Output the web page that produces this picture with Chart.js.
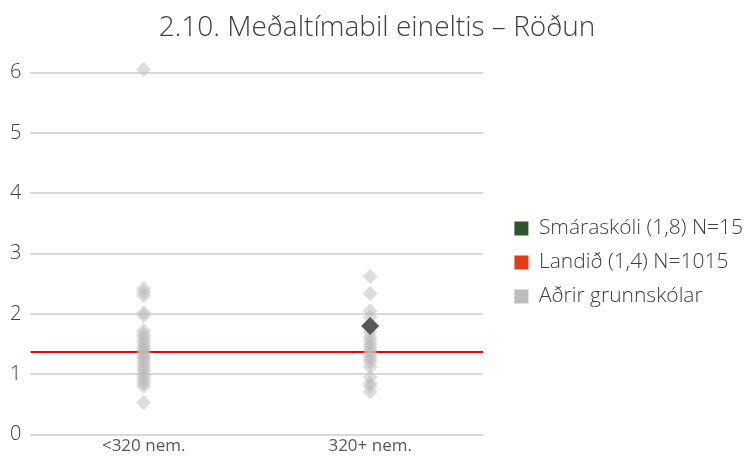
<!DOCTYPE html>
<html>
<head>
    <title>2.10. Meðaltímabil eineltis – Röðun</title>
    <script src="https://cdn.jsdelivr.net/npm/chart.js"></script>
    <style>
        body { margin: 0; background: #fff; }
        #wrap { width: 744px; height: 457px; }
    </style>
</head>
<body>
    <div id="wrap"><canvas id="myChart"></canvas></div>

    <script>
        // Flokkar (x-ás)
        var categories = ['<320 nem.', '320+ nem.'];
        // Aðrir grunnskólar, <320 nemendur
        var smallSchools = [6.05, 2.42, 2.36, 2.3, 2.02, 1.97, 1.72, 1.66, 1.62, 1.57, 1.52, 1.47,
            1.43, 1.4, 1.36, 1.32, 1.28, 1.24, 1.2, 1.15, 1.1, 1.06, 1.0, 0.95, 0.9, 0.85, 0.8, 0.53];
        // Aðrir grunnskólar, 320+ nemendur
        var largeSchools = [2.62, 2.34, 2.05, 1.95, 1.7, 1.62, 1.56, 1.5, 1.45, 1.4, 1.35, 1.3,
            1.25, 1.2, 1.12, 0.95, 0.85, 0.8, 0.71];
        // Smáraskóli
        var smaraskoliGroup = 1;
        var smaraskoliValue = 1.8;
        // Landið
        var landidValue = 1.37;
        var yTicks = [0, 1, 2, 3, 4, 5, 6];
        var legendLabels = ['Smáraskóli (1,8) N=15', 'Landið (1,4) N=1015', 'Aðrir grunnskólar'];
        var legendColors = ['#2f5430', '#e23d17', '#bdbdbd'];

        var ctx = document.getElementById('myChart').getContext('2d');
        Chart.defaults.font.family = '"Open Sans", Lato, sans-serif';

        function toPoints(group, values) {
            return values.map(function (v) { return { x: group, y: v }; });
        }

        var data = {
            datasets: [{
                label: legendLabels[0],
                type: 'scatter',
                data: [{ x: smaraskoliGroup, y: smaraskoliValue }],
                pointStyle: 'rectRot',
                pointRadius: 9,
                pointHoverRadius: 9,
                backgroundColor: '#585858',
                borderWidth: 0,
                clip: false
            }, {
                label: legendLabels[2],
                type: 'scatter',
                data: toPoints(0, smallSchools).concat(toPoints(1, largeSchools)),
                pointStyle: 'rectRot',
                pointRadius: 7.5,
                pointHoverRadius: 7.5,
                backgroundColor: 'rgba(188, 188, 188, 0.5)',
                borderWidth: 0,
                clip: false
            }, {
                label: legendLabels[1],
                type: 'line',
                data: [{ x: -0.5, y: landidValue }, { x: 1.5, y: landidValue }],
                borderColor: '#ff0000',
                borderWidth: 2,
                pointRadius: 0,
                fill: false
            }]
        };

        new Chart(ctx, {
            type: 'scatter',
            data: data,
            options: {
                responsive: true,
                maintainAspectRatio: false,
                animation: false,
                layout: { padding: { left: 1, right: -9, top: 0, bottom: 0 } },
                plugins: {
                    title: {
                        display: true,
                        text: '2.10. Meðaltímabil eineltis – Röðun',
                        color: '#404040',
                        font: { size: 28, weight: 300 },
                        padding: { top: 11, bottom: 28 }
                    },
                    tooltip: { enabled: false },
                    legend: {
                        position: 'right',
                        align: 'center',
                        maxWidth: 300,
                        // tómur titill ýtir skýringunum niður
                        title: {
                            display: true,
                            text: ' ',
                            font: { size: 10 },
                            padding: { top: 28, bottom: 28 }
                        },
                        labels: {
                            boxWidth: 14,
                            boxHeight: 14,
                            padding: 13,
                            color: '#404040',
                            font: { size: 21, weight: 300 },
                            generateLabels: function () {
                                return legendLabels.map(function (t, i) {
                                    return {
                                        text: t,
                                        fillStyle: legendColors[i],
                                        strokeStyle: legendColors[i],
                                        lineWidth: 0,
                                        fontColor: '#404040',
                                        hidden: false,
                                        datasetIndex: i
                                    };
                                });
                            }
                        }
                    }
                },
                scales: {
                    x: {
                        type: 'linear',
                        min: -0.5,
                        max: 1.5,
                        afterBuildTicks: function (axis) {
                            axis.ticks = categories.map(function (c, i) { return { value: i }; });
                        },
                        ticks: {
                            color: '#595959',
                            font: { size: 17 },
                            padding: 1,
                            callback: function (v) { return categories[v]; }
                        },
                        grid: { display: false, drawTicks: false },
                        border: { display: false }
                    },
                    y: {
                        min: yTicks[0],
                        max: yTicks[yTicks.length - 1],
                        afterBuildTicks: function (axis) {
                            axis.ticks = yTicks.map(function (v) { return { value: v }; });
                        },
                        ticks: {
                            color: '#404040',
                            font: { size: 20, weight: 300 },
                            padding: 9
                        },
                        grid: { color: '#d9d9d9', lineWidth: 2, drawTicks: false },
                        border: { display: false }
                    },
                    // autt bil milli teiknisvæðis og skýringa
                    gap: {
                        type: 'linear',
                        position: 'right',
                        display: true,
                        grid: { display: false, drawTicks: false },
                        ticks: { display: false },
                        border: { display: false },
                        afterFit: function (axis) { axis.width = 18; }
                    }
                }
            }
        });
    </script>
</body>
</html>
